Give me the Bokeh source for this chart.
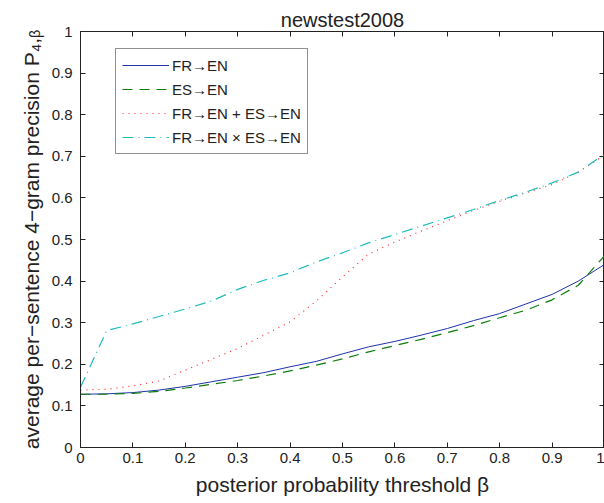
from bokeh.plotting import figure
from bokeh.models import LinearAxis, FixedTicker, Legend, LegendItem, Range1d
from bokeh.embed import file_html
from bokeh.resources import INLINE

# ---- data ----
beta = [0, 0.05, 0.1, 0.15, 0.2, 0.25, 0.3, 0.35, 0.4, 0.45, 0.5,
        0.55, 0.6, 0.65, 0.7, 0.75, 0.8, 0.85, 0.9, 0.95, 1.0]
fr_en = [0.128, 0.129, 0.132, 0.138, 0.147, 0.158, 0.169, 0.180, 0.194, 0.207, 0.225,
         0.242, 0.255, 0.270, 0.286, 0.305, 0.322, 0.345, 0.368, 0.400, 0.440]
es_en = [0.128, 0.128, 0.130, 0.135, 0.143, 0.152, 0.161, 0.172, 0.184, 0.198, 0.213,
         0.230, 0.245, 0.260, 0.276, 0.293, 0.312, 0.330, 0.355, 0.390, 0.461]
fr_plus_es = [0.138, 0.140, 0.148, 0.160, 0.186, 0.212, 0.238, 0.270, 0.302, 0.352, 0.410,
              0.465, 0.494, 0.520, 0.545, 0.570, 0.592, 0.612, 0.632, 0.662, 0.703]
fr_times_es = [0.145, 0.281, 0.297, 0.315, 0.333, 0.352, 0.380, 0.402, 0.420, 0.446, 0.468,
               0.492, 0.512, 0.532, 0.552, 0.572, 0.594, 0.614, 0.636, 0.662, 0.705]

series_names = ["FR\u2192EN", "ES\u2192EN", "FR\u2192EN + ES\u2192EN", "FR\u2192EN \u00d7 ES\u2192EN"]

x_ticks = [0, 0.1, 0.2, 0.3, 0.4, 0.5, 0.6, 0.7, 0.8, 0.9, 1]
x_tick_labels = ["0", "0.1", "0.2", "0.3", "0.4", "0.5", "0.6", "0.7", "0.8", "0.9", "1"]
y_ticks = [0, 0.1, 0.2, 0.3, 0.4, 0.5, 0.6, 0.7, 0.8, 0.9, 1]
y_tick_labels = ["0", "0.1", "0.2", "0.3", "0.4", "0.5", "0.6", "0.7", "0.8", "0.9", "1"]

title_text = "newstest2008"
x_label = "posterior probability threshold \u03b2"
y_label = "average per\u2212sentence 4\u2212gram precision P\u2084,\u1d66"

FONT = "Liberation Sans"
INK = "#222222"

p = figure(width=604, height=503, x_range=Range1d(0, 1), y_range=Range1d(0, 1),
           output_backend="svg", toolbar_location=None, title=title_text,
           min_border_left=80, min_border_right=0, min_border_top=31, min_border_bottom=56)
p.title.align = "center"
p.title.text_font = FONT
p.title.text_font_size = "20px"
p.title.text_font_style = "normal"
p.title.text_color = INK
p.title.standoff = 2
p.xgrid.visible = False
p.ygrid.visible = False
p.outline_line_color = INK
p.outline_line_width = 1
p.background_fill_color = "white"
p.border_fill_color = "white"


def style_axis(ax, ticks, labels, show_labels=True):
    ax.ticker = FixedTicker(ticks=ticks)
    ax.major_tick_in = 5
    ax.major_tick_out = 0
    ax.minor_tick_in = 0
    ax.minor_tick_out = 0
    ax.axis_line_color = INK
    ax.major_tick_line_color = INK
    ax.major_label_text_font = FONT
    if show_labels:
        ax.major_label_overrides = dict(zip(ticks, labels))
        ax.major_label_text_font_size = "15px"
        ax.major_label_text_color = INK
    else:
        ax.major_label_text_font_size = "1px"
        ax.major_label_text_color = None
        ax.major_label_standoff = 0


xa = p.xaxis[0]
ya = p.yaxis[0]
style_axis(xa, x_ticks, x_tick_labels)
style_axis(ya, y_ticks, y_tick_labels)
xa.major_label_standoff = 5
ya.major_label_standoff = 8
xa.axis_label = x_label
ya.axis_label = y_label
for ax in (xa, ya):
    ax.axis_label_text_font = FONT
    ax.axis_label_text_font_style = "normal"
    ax.axis_label_text_color = INK
    ax.axis_label_text_font_size = "21px"
xa.axis_label_standoff = 7
ya.axis_label_standoff = 6

top_ax = LinearAxis()
style_axis(top_ax, x_ticks, x_tick_labels, show_labels=False)
p.add_layout(top_ax, "above")
right_ax = LinearAxis()
style_axis(right_ax, y_ticks, y_tick_labels, show_labels=False)
p.add_layout(right_ax, "right")

r1 = p.line(beta, fr_en, line_color="#1f33a6", line_width=1)
r2 = p.line(beta, es_en, line_color="#0b7d0b", line_width=1.2, line_dash="10 7")
r3 = p.line(beta, fr_plus_es, line_color="#ff2a2a", line_width=1.2, line_dash="1 5")
r4 = p.line(beta, fr_times_es, line_color="#1fbcbc", line_width=1.2, line_dash="11 5 1 5")

legend = Legend(items=[LegendItem(label=series_names[0], renderers=[r1]),
                       LegendItem(label=series_names[1], renderers=[r2]),
                       LegendItem(label=series_names[2], renderers=[r3]),
                       LegendItem(label=series_names[3], renderers=[r4])],
                location=(35, 293))
legend.margin = 0
legend.padding = 6
legend.spacing = 4
legend.glyph_width = 47
legend.glyph_height = 20
legend.label_height = 20
legend.label_standoff = 3
legend.label_text_font = FONT
legend.label_text_font_size = "15px"
legend.label_text_color = INK
legend.border_line_color = INK
legend.border_line_width = 1
legend.background_fill_color = "white"
legend.background_fill_alpha = 1.0
p.add_layout(legend)

open("out.html", "w").write(file_html(p, INLINE))
